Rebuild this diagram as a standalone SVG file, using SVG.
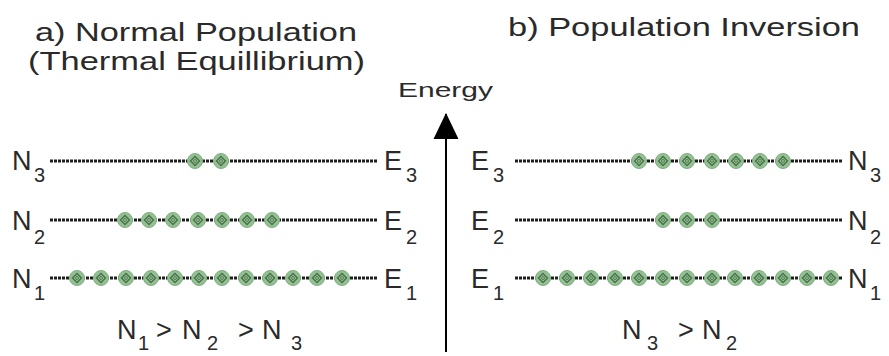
<svg xmlns="http://www.w3.org/2000/svg" xmlns:xlink="http://www.w3.org/1999/xlink" width="889" height="356" viewBox="0 0 889 356">
<style>
text{font-family:"Liberation Sans",Arial,sans-serif;fill:#2a2a2a}
.title{font-size:25px}
.lab{font-size:27px}
.sub{font-size:20px}
.lvl{stroke:#1e1e1e;stroke-width:3;stroke-dasharray:3 1;fill:none}
.axis{stroke:#000;stroke-width:2;fill:none}
</style>
<defs>
<g id="dot">
<circle r="7.5" fill="#93c193" stroke="#7fae7f" stroke-width="1"/>
<path d="M0,-4.5 L4.5,0 L0,4.5 L-4.5,0Z" fill="none" stroke="#476f47" stroke-width="1.3"/>
<circle r="1.5" fill="#93c193" stroke="#476f47" stroke-width="0.8"/>
</g>
<marker id="arrow" markerUnits="userSpaceOnUse" markerWidth="26" markerHeight="26" viewBox="0 0 25 24" refX="24" refY="12" orient="auto">
<path d="M25,12 L0,24 L0,0Z" fill="#000"/>
</marker>
</defs>
<rect width="889" height="356" fill="#fff"/>

<g id="titles">
<text class="title" x="35" y="41" textLength="322" lengthAdjust="spacingAndGlyphs">a) Normal Population</text>
<text class="title" x="28" y="70" textLength="337" lengthAdjust="spacingAndGlyphs">(Thermal Equillibrium)</text>
<text class="title" x="508" y="36" textLength="352" lengthAdjust="spacingAndGlyphs">b) Population Inversion</text>
<text x="398" y="97" font-size="21" textLength="95" lengthAdjust="spacingAndGlyphs">Energy</text>
</g>

<g id="connectors">
<line class="axis" x1="446" y1="352" x2="446" y2="114" marker-end="url(#arrow)"/>
</g>

<g id="left-N3">
<text class="lab" x="12" y="170">N</text><text class="sub" x="34" y="182">3</text>
<line class="lvl" x1="50" y1="161" x2="378" y2="161"/>
<use xlink:href="#dot" x="195" y="161"/><use xlink:href="#dot" x="221" y="161"/>
<text class="lab" x="384" y="170">E</text><text class="sub" x="406" y="182">3</text>
</g>

<g id="left-N2">
<text class="lab" x="12" y="230">N</text><text class="sub" x="34" y="244">2</text>
<line class="lvl" x1="50" y1="220" x2="378" y2="220"/>
<use xlink:href="#dot" x="125" y="220"/><use xlink:href="#dot" x="149" y="220"/><use xlink:href="#dot" x="173" y="220"/><use xlink:href="#dot" x="198" y="220"/><use xlink:href="#dot" x="222" y="220"/><use xlink:href="#dot" x="247" y="220"/><use xlink:href="#dot" x="272" y="220"/>
<text class="lab" x="384" y="230">E</text><text class="sub" x="406" y="244">2</text>
</g>

<g id="left-N1">
<text class="lab" x="12" y="288">N</text><text class="sub" x="34" y="300">1</text>
<line class="lvl" x1="50" y1="278" x2="378" y2="278"/>
<use xlink:href="#dot" x="77" y="278"/><use xlink:href="#dot" x="101" y="278"/><use xlink:href="#dot" x="126" y="278"/><use xlink:href="#dot" x="151" y="278"/><use xlink:href="#dot" x="175" y="278"/><use xlink:href="#dot" x="199" y="278"/><use xlink:href="#dot" x="222" y="278"/><use xlink:href="#dot" x="246" y="278"/><use xlink:href="#dot" x="270" y="278"/><use xlink:href="#dot" x="293" y="278"/><use xlink:href="#dot" x="317" y="278"/><use xlink:href="#dot" x="342" y="278"/>
<text class="lab" x="384" y="288">E</text><text class="sub" x="406" y="300">1</text>
</g>

<g id="left-relation">
<text class="lab" x="117" y="339">N</text><text class="sub" x="138" y="350">1</text>
<text class="lab" x="156" y="339">&gt;</text>
<text class="lab" x="182" y="339">N</text><text class="sub" x="207" y="350">2</text>
<text class="lab" x="238" y="339">&gt;</text>
<text class="lab" x="262" y="339">N</text><text class="sub" x="291" y="350">3</text>
</g>

<g id="right-E3">
<text class="lab" x="471" y="170">E</text><text class="sub" x="493" y="182">3</text>
<line class="lvl" x1="515" y1="161" x2="843" y2="161"/>
<use xlink:href="#dot" x="639" y="161"/><use xlink:href="#dot" x="663" y="161"/><use xlink:href="#dot" x="687" y="161"/><use xlink:href="#dot" x="712" y="161"/><use xlink:href="#dot" x="736" y="161"/><use xlink:href="#dot" x="760" y="161"/><use xlink:href="#dot" x="783" y="161"/>
<text class="lab" x="848" y="170">N</text><text class="sub" x="870" y="182">3</text>
</g>

<g id="right-E2">
<text class="lab" x="471" y="230">E</text><text class="sub" x="493" y="244">2</text>
<line class="lvl" x1="515" y1="220" x2="843" y2="220"/>
<use xlink:href="#dot" x="663" y="220"/><use xlink:href="#dot" x="687" y="220"/><use xlink:href="#dot" x="712" y="220"/>
<text class="lab" x="848" y="230">N</text><text class="sub" x="870" y="244">2</text>
</g>

<g id="right-E1">
<text class="lab" x="471" y="288">E</text><text class="sub" x="493" y="300">1</text>
<line class="lvl" x1="515" y1="278" x2="843" y2="278"/>
<use xlink:href="#dot" x="543" y="278"/><use xlink:href="#dot" x="567" y="278"/><use xlink:href="#dot" x="591" y="278"/><use xlink:href="#dot" x="615" y="278"/><use xlink:href="#dot" x="639" y="278"/><use xlink:href="#dot" x="663" y="278"/><use xlink:href="#dot" x="687" y="278"/><use xlink:href="#dot" x="712" y="278"/><use xlink:href="#dot" x="735" y="278"/><use xlink:href="#dot" x="759" y="278"/><use xlink:href="#dot" x="783" y="278"/><use xlink:href="#dot" x="807" y="278"/><use xlink:href="#dot" x="831" y="278"/>
<text class="lab" x="848" y="288">N</text><text class="sub" x="870" y="300">1</text>
</g>

<g id="right-relation">
<text class="lab" x="622" y="339">N</text><text class="sub" x="647" y="350">3</text>
<text class="lab" x="678" y="339">&gt;</text>
<text class="lab" x="702" y="339">N</text><text class="sub" x="726" y="350">2</text>
</g>
</svg>
